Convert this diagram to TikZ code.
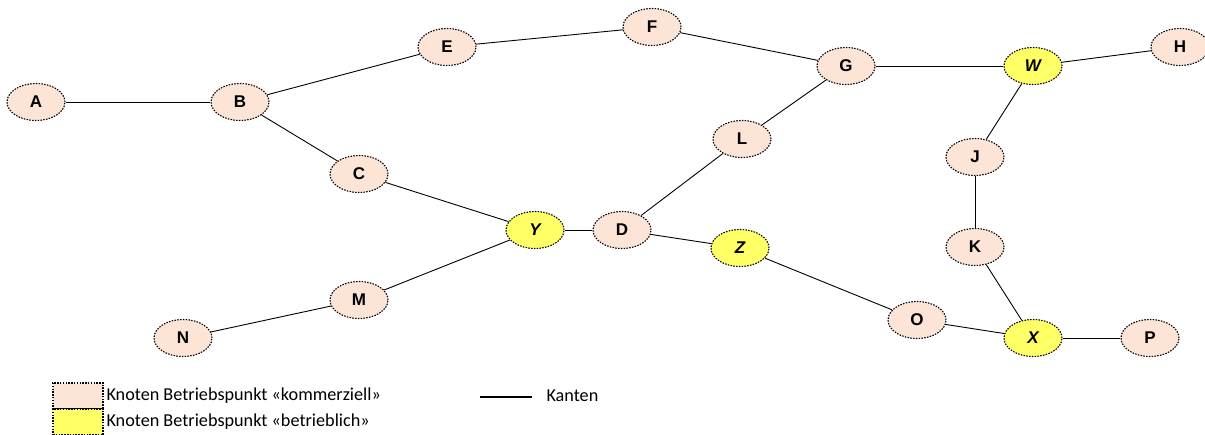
\documentclass[tikz,border=0pt]{standalone}
\usepackage{fontspec}
\setmainfont{Carlito}
\newfontfamily\knotfont{Liberation Sans}
\usetikzlibrary{shapes.geometric}

\definecolor{kommerz}{HTML}{FCE4D6}
\definecolor{betrieb}{HTML}{FFFF66}

\tikzset{
  knoten/.style={ellipse,draw,line width=1.1pt,dash pattern=on 1.5pt off 1.3pt,fill=kommerz,
    minimum width=58pt,minimum height=37pt,inner sep=0pt,
    font=\knotfont\bfseries\fontsize{17}{17}\selectfont},
  bknoten/.style={knoten,fill=betrieb,font=\knotfont\bfseries\itshape\fontsize{17}{17}\selectfont},
  kante/.style={line width=0.9pt},
  legbox/.style={draw,line width=1.1pt,dash pattern=on 1.5pt off 1.3pt,
    minimum width=50pt,minimum height=26pt,inner sep=0pt},
  legtext/.style={anchor=west,font=\fontsize{18.2}{18}\selectfont}
}

\begin{document}
\begin{tikzpicture}[x=1pt,y=-1pt]
    \useasboundingbox (0,0) rectangle (1205,435);

    % kommerzielle Betriebspunkte
    \foreach \x/\y/\k in {36/102/A,240/102/B,447/47/E,652/27/F,846/66/G,1180/47/H,
        359/174/C,742/139/L,975/157/J,622/230/D,975/247/K,359/300/M,183/338/N,
        917/320/O,1150/338/P}
        \node[knoten] (\k) at (\x,\y) {\k};
    % betriebliche Betriebspunkte
    \foreach \x/\y/\k in {1033/66/W,535/230/Y,740/248/Z,1033/338/X}
        \node[bknoten] (\k) at (\x,\y) {\k};

    \foreach \a/\b in {A/B,B/E,E/F,F/G,G/W,W/H,B/C,C/Y,Y/M,M/N,Y/D,D/L,L/G,
        D/Z,Z/O,O/X,X/P,W/J,J/K,K/X}
      \draw[kante] (\a) -- (\b);

    % Legende
    \node[legbox,fill=kommerz] (lk) at (78,396) {};
    \node[legbox,fill=betrieb] (lb) at (78,422) {};
    \node[legtext] (tk) at (103,396) {Knoten Betriebspunkt «kommerziell»};
    \node[legtext] (tb) at (103,422) {Knoten Betriebspunkt «betrieblich»};
    \coordinate (k1) at (480,397);
    \coordinate (k2) at (532,397);
    \draw[line width=1.8pt] (k1) -- (k2);
    \node[legtext] (tkan) at (543,396) {Kanten};
\end{tikzpicture}
\end{document}
